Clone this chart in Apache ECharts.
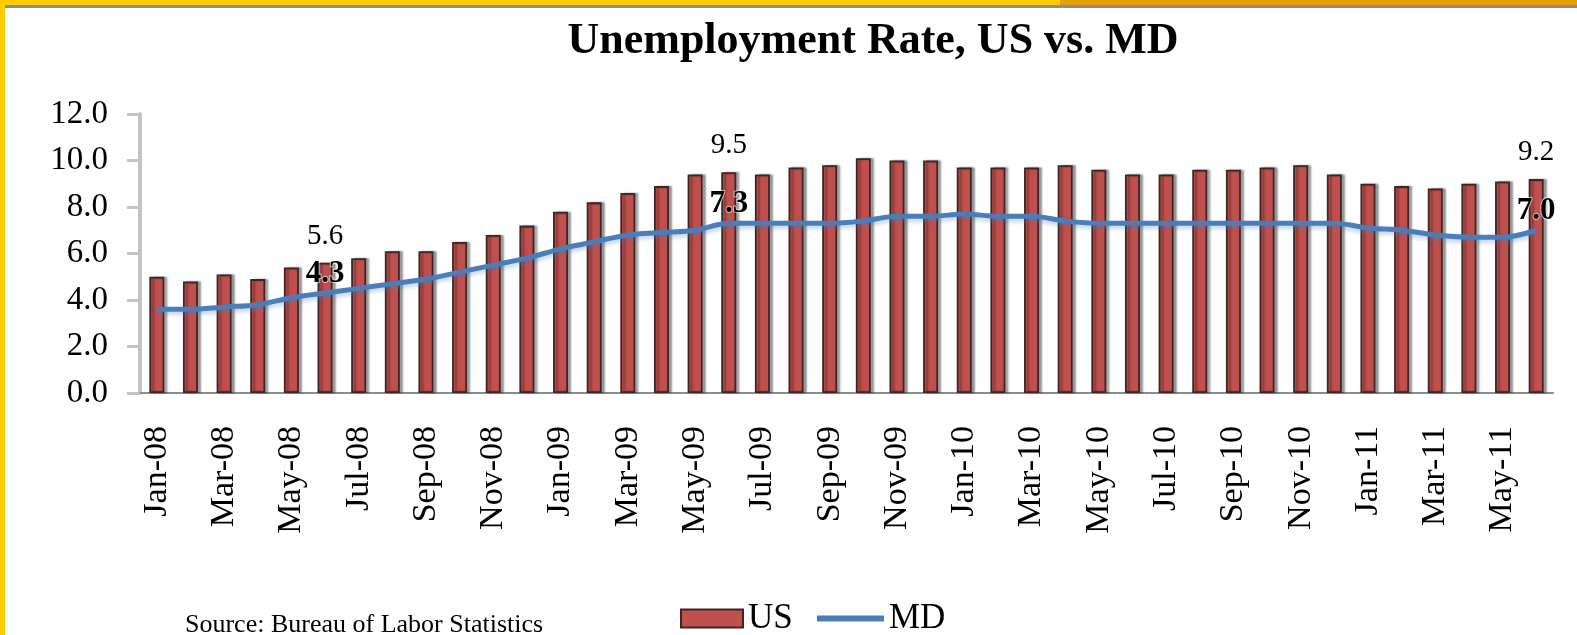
<!DOCTYPE html>
<html>
<head>
<meta charset="utf-8">
<script src="https://cdn.jsdelivr.net/npm/echarts@6/dist/echarts.min.js"></script>
<style>
html,body{margin:0;padding:0;background:#fff;}
#chart{width:1577px;height:635px;}
</style>
</head>
<body>
<div id="chart"></div>
<script>
const months = [
  'Jan-08','Feb-08','Mar-08','Apr-08','May-08','Jun-08','Jul-08','Aug-08','Sep-08','Oct-08','Nov-08','Dec-08',
  'Jan-09','Feb-09','Mar-09','Apr-09','May-09','Jun-09','Jul-09','Aug-09','Sep-09','Oct-09','Nov-09','Dec-09',
  'Jan-10','Feb-10','Mar-10','Apr-10','May-10','Jun-10','Jul-10','Aug-10','Sep-10','Oct-10','Nov-10','Dec-10',
  'Jan-11','Feb-11','Mar-11','Apr-11','May-11','Jun-11'
];
const usRate = [
  5.0,4.8,5.1,4.9,5.4,5.6,5.8,6.1,6.1,6.5,6.8,7.2,
  7.8,8.2,8.6,8.9,9.4,9.5,9.4,9.7,9.8,10.1,10.0,10.0,
  9.7,9.7,9.7,9.8,9.6,9.4,9.4,9.6,9.6,9.7,9.8,9.4,
  9.0,8.9,8.8,9.0,9.1,9.2
];
const mdRate = [
  3.6,3.6,3.7,3.8,4.1,4.3,4.5,4.7,4.9,5.2,5.5,5.8,
  6.2,6.5,6.8,6.9,7.0,7.3,7.3,7.3,7.3,7.4,7.6,7.6,
  7.7,7.6,7.6,7.4,7.3,7.3,7.3,7.3,7.3,7.3,7.3,7.3,
  7.1,7.0,6.8,6.7,6.7,7.0
];
const labeledMonths = ['Jun-08','Jun-09','Jun-11'];
const yTicks = [0,2,4,6,8,10,12];
const titleText = 'Unemployment Rate, US vs. MD';
const sourceText = 'Source: Bureau of Labor Statistics';

const serif = "'Liberation Serif','Times New Roman',serif";

const usData = usRate.map((v,i)=>({
  value: v,
  label: {show: labeledMonths.includes(months[i])}
}));
const mdData = mdRate.map((v,i)=>({
  value: v,
  label: {show: labeledMonths.includes(months[i])}
}));

const legendText = {fontFamily: serif, fontSize: 35, color: '#000'};

const chart = echarts.init(document.getElementById('chart'), null, {renderer:'canvas'});
chart.setOption({
  backgroundColor: '#ffffff',
  animation: false,
  grid: {left: 140, right: 24, top: 114, bottom: 242, containLabel: false},
  legend: [
    {
      left: 675, top: 596,
      itemWidth: 62, itemHeight: 18, itemGap: 22,
      textStyle: legendText,
      data: [{name: 'US', icon: 'rect'}]
    },
    {
      left: 812, top: 596,
      itemWidth: 67, itemHeight: 6,
      textStyle: legendText,
      data: [{name: 'MD', icon: 'rect'}]
    }
  ],
  xAxis: {
    type: 'category',
    data: months,
    boundaryGap: true,
    axisLine: {lineStyle: {color: '#8c8c8c', width: 2}},
    axisTick: {interval: 1, length: 12, lineStyle: {color: '#bdbdbd', width: 3}},
    axisLabel: {interval: 1, rotate: 90, margin: 33, fontFamily: serif, fontSize: 34, color: '#000'},
    splitLine: {show: false}
  },
  yAxis: {
    type: 'value',
    min: yTicks[0], max: yTicks[yTicks.length-1], interval: 2,
    axisLine: {show: true, lineStyle: {color: '#c4c4c4', width: 4}},
    axisTick: {show: true, length: 13, lineStyle: {color: '#c4c4c4', width: 3}},
    axisLabel: {margin: 32, fontFamily: serif, fontSize: 33, color: '#000', formatter: v => v.toFixed(1)},
    splitLine: {show: false}
  },
  series: [
    {
      name: 'US', type: 'bar', data: usData, barWidth: 15,
      itemStyle: {color: '#C0504D', borderColor: '#3a2626', borderWidth: 1.8,
        shadowColor: 'rgba(0,0,0,0.35)', shadowOffsetX: 3, shadowOffsetY: 0, shadowBlur: 2},
      label: {position: 'top', distance: 12, fontFamily: serif, fontSize: 29, color: '#000',
        formatter: p => p.value.toFixed(1)}
    },
    {
      name: 'MD', type: 'line', data: mdData, smooth: 0.35,
      symbol: 'circle', symbolSize: 0, showSymbol: true,
      lineStyle: {color: '#4A7EBB', width: 5, shadowColor: 'rgba(74,126,187,0.35)', shadowBlur: 4, shadowOffsetY: 3},
      itemStyle: {color: '#4A7EBB'},
      label: {position: 'top', distance: 4, fontFamily: serif, fontSize: 31, fontWeight: 'bold', color: '#000',
        textBorderColor: 'rgba(255,255,255,0.6)', textBorderWidth: 2,
        formatter: p => p.value.toFixed(1)},
      z: 3
    }
  ],
  graphic: [
    {type:'rect', shape:{x:0,y:0,width:1060,height:5}, style:{fill:'#FFCC00'}, silent:true},
    {type:'rect', shape:{x:1060,y:0,width:517,height:5}, style:{fill:'#E8A000'}, silent:true},
    {type:'rect', shape:{x:5,y:5,width:1572,height:3}, style:{fill:'#8c8c8c'}, silent:true},
    {type:'rect', shape:{x:0,y:0,width:5,height:635}, style:{fill:'#FFCC00'}, silent:true},
    {type:'text', x: 873, y: 42, style:{text: titleText, fontFamily: serif, fontSize: 44, fontWeight: 'bold',
      fill: '#000', textAlign: 'center', textVerticalAlign: 'middle'}},
    {type:'text', x: 185, y: 638, style:{text: sourceText, fontFamily: serif, fontSize: 26,
      fill: '#000', textAlign: 'left', textVerticalAlign: 'bottom'}}
  ]
});
</script>
</body>
</html>
